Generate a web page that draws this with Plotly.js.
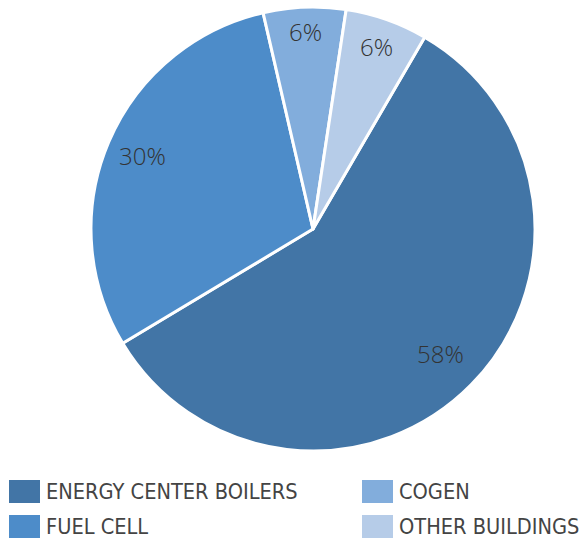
<!DOCTYPE html>
<html><head><meta charset="utf-8">
<script src="https://cdn.plot.ly/plotly-3.0.1.min.js"></script>
<style>html,body{margin:0;padding:0;background:#fff}#chart{width:579px;height:540px}</style>
</head><body><div id="chart"></div>
<script>
const categories = ["ENERGY CENTER BOILERS", "FUEL CELL", "COGEN", "OTHER BUILDINGS"];
const values = [58, 30, 6, 6];
const colors = ["#4275a6", "#4d8cc9", "#82addc", "#b6cce8"];
const labelRadius = [0.808, 0.834, 0.887, 0.865];
const legendOrder = [0, 2, 1, 3];

const W = 579, H = 540;
const cx = 313, cy = 229, R = 222;
const rotation = 30.2;

const trace = {
  type: "pie",
  labels: categories,
  values: values,
  sort: false,
  direction: "clockwise",
  rotation: rotation,
  marker: {colors: colors, line: {color: "#ffffff", width: 3}},
  textinfo: "none",
  domain: {x: [(cx - R) / W, (cx + R) / W], y: [1 - (cy + R) / H, 1 - (cy - R) / H]},
  hoverinfo: "label+percent",
  showlegend: false
};

const shapes = [], annotations = [];
const total = values.reduce((a, b) => a + b, 0);
let cum = 0;
values.forEach((v, i) => {
  const mid = rotation + (cum + v / 2) / total * 360;
  cum += v;
  const a = mid * Math.PI / 180;
  const px = cx + R * labelRadius[i] * Math.sin(a);
  const py = cy - R * labelRadius[i] * Math.cos(a);
  annotations.push({xref: "paper", yref: "paper", x: px / W, y: 1 - (py - 1) / H,
    xanchor: "center", yanchor: "middle", showarrow: false,
    text: Math.round(v / total * 100) + "%",
    font: {family: "'Open Sans', Lato, sans-serif", size: 24, color: "#333333", style: "normal", weight: 300}});
});

legendOrder.forEach((idx, k) => {
  const col = k % 2, row = Math.floor(k / 2);
  const x0 = col === 0 ? 9 : 362;
  const y0 = row === 0 ? 480 : 515;
  shapes.push({type: "rect", xref: "paper", yref: "paper",
    x0: x0 / W, x1: (x0 + 31) / W, y0: 1 - (y0 + 23) / H, y1: 1 - y0 / H,
    fillcolor: colors[idx], line: {width: 0}});
  annotations.push({xref: "paper", yref: "paper", x: (x0 + 35) / W, y: 1 - (y0 + 11.5) / H,
    xanchor: "left", yanchor: "middle", showarrow: false, text: categories[idx],
    font: {family: "'Liberation Sans Narrow', 'DejaVu Sans Condensed', sans-serif", size: 21.6, color: "#444444"}});
});

const layout = {
  width: W, height: H,
  margin: {l: 0, r: 0, t: 0, b: 0},
  paper_bgcolor: "#ffffff",
  showlegend: false,
  shapes: shapes,
  annotations: annotations
};
Plotly.newPlot("chart", [trace], layout, {displayModeBar: false, staticPlot: true});
</script></body></html>
